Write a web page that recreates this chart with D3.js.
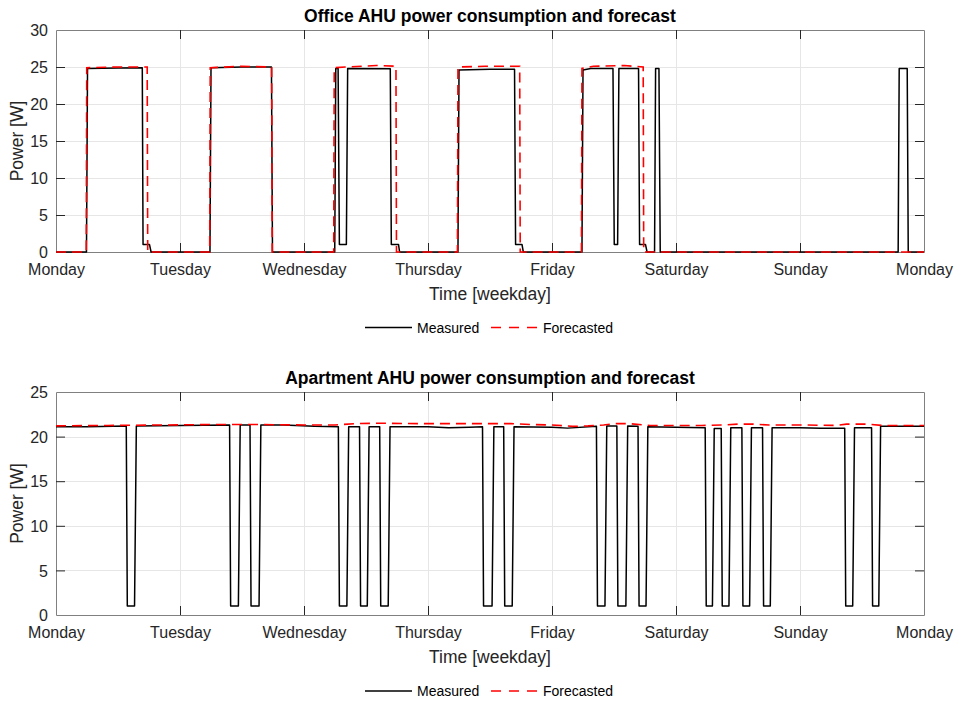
<!DOCTYPE html>
<html>
<head>
<meta charset="utf-8">
<script src="https://cdn.jsdelivr.net/npm/d3@7"></script>
<style>
  html, body { margin: 0; padding: 0; background: #fff; }
  svg { display: block; font-family: "Liberation Sans", Arial, sans-serif; }
</style>
</head>
<body>
<svg id="chart" width="957" height="702"></svg>
<script>
// Weekday tick labels (hours since Monday 00:00, one tick per day)
const dayLabels = ["Monday", "Tuesday", "Wednesday", "Thursday", "Friday", "Saturday", "Sunday", "Monday"];
const dayHours = [0, 24, 48, 72, 96, 120, 144, 168];

const officeTicks = [0, 5, 10, 15, 20, 25, 30];
const apartmentTicks = [0, 5, 10, 15, 20, 25];

// Office AHU, measured power [hour, W]
const officeMeasured = [
  [0, 0], [5.9, 0], [6.1, 24.8], [12, 24.85], [16.7, 24.9], [16.85, 1.0], [18.1, 1.0], [18.4, 0],
  [29.8, 0], [30.0, 24.9], [36, 25.0], [41.7, 25.0], [41.9, 0],
  [53.95, 0], [54.15, 24.8], [54.6, 24.8], [54.85, 1.0], [56.2, 1.0], [56.45, 24.8], [64.7, 24.75], [64.9, 1.0], [66.3, 1.0], [66.5, 0],
  [77.8, 0], [78.0, 24.6], [84, 24.7], [88.75, 24.7], [88.95, 1.0], [90.2, 1.0], [90.45, 0],
  [101.8, 0], [102.0, 24.6], [103.5, 24.8], [107.8, 24.8], [108.05, 1.0], [108.7, 1.0], [108.95, 24.8], [112.75, 24.8], [112.95, 1.0], [114.1, 1.0], [114.4, 0],
  [115.85, 0], [116.05, 24.8], [116.7, 24.8], [116.95, 0],
  [163.0, 0], [163.2, 24.8], [164.75, 24.8], [164.95, 0], [168, 0]
];

// Office AHU, forecasted power [hour, W]
const officeForecast = [
  [0, 0], [5.85, 0], [5.95, 24.9], [12, 25.0], [17.65, 25.0], [17.75, 0],
  [29.75, 0], [29.85, 24.9], [36, 25.1], [41.75, 25.0], [41.85, 0],
  [53.75, 0], [53.85, 24.9], [56, 25.0], [62, 25.2], [65.8, 25.1], [65.9, 0],
  [77.7, 0], [77.8, 25.0], [83, 25.1], [89.75, 25.1], [89.85, 0],
  [101.7, 0], [101.8, 24.8], [104, 25.1], [110, 25.2], [113.65, 25.0], [113.75, 0],
  [168, 0]
];

// Apartment AHU, measured power [hour, W]
const apartmentMeasured = [
  [0, 21.1], [6, 21.1], [13.6, 21.2], [13.8, 1.0], [15.2, 1.0], [15.55, 21.2],
  [24, 21.25], [33.6, 21.3], [33.8, 1.0], [35.3, 1.0], [35.65, 21.3],
  [37.55, 21.3], [37.75, 1.0], [39.3, 1.0], [39.65, 21.3], [44, 21.3],
  [50, 21.15], [54.65, 21.1], [54.85, 1.0], [56.3, 1.0], [56.65, 21.1],
  [58.75, 21.1], [58.95, 1.0], [60.25, 1.0], [60.6, 21.1],
  [62.65, 21.1], [62.85, 1.0], [64.3, 1.0], [64.65, 21.1],
  [72, 21.1], [76, 21.0], [80, 21.05], [82.55, 21.1], [82.75, 1.0], [84.4, 1.0], [84.75, 21.1],
  [86.65, 21.1], [86.85, 1.0], [88.3, 1.0], [88.65, 21.1],
  [96, 21.05], [99, 20.95], [104.6, 21.15], [104.8, 1.0], [106.25, 1.0], [106.6, 21.2],
  [108.55, 21.2], [108.75, 1.0], [110.3, 1.0], [110.65, 21.2],
  [112.65, 21.15], [112.85, 1.0], [114.2, 1.0], [114.55, 21.1],
  [120, 21.05], [125.65, 21.0], [125.85, 1.0], [127.05, 1.0], [127.4, 20.9],
  [128.75, 20.9], [128.95, 1.0], [130.25, 1.0], [130.6, 21.0],
  [132.75, 21.0], [132.95, 1.0], [134.25, 1.0], [134.6, 21.0],
  [136.75, 21.0], [136.95, 1.0], [138.25, 1.0], [138.6, 21.0],
  [144, 21.0], [148, 20.95], [152.65, 20.95], [152.85, 1.0], [154.2, 1.0], [154.55, 21.0],
  [157.85, 21.0], [158.05, 1.0], [159.25, 1.0], [159.6, 21.15], [168, 21.15]
];

// Apartment AHU, forecasted power [hour, W]
const apartmentForecast = [
  [0, 21.2], [10, 21.25], [20, 21.3], [30, 21.35], [40, 21.35], [48, 21.3], [54, 21.3],
  [58, 21.45], [62, 21.5], [70, 21.45], [80, 21.45], [88, 21.45], [92, 21.35], [96, 21.3],
  [100, 21.15], [103, 21.2], [106, 21.3], [108, 21.45], [111, 21.45], [115, 21.25],
  [125, 21.25], [129, 21.3], [132, 21.4], [135, 21.4], [138, 21.3], [145, 21.3],
  [151, 21.25], [153, 21.4], [157, 21.4], [160, 21.25], [168, 21.25]
];

const svg = d3.select("#chart");
const left = 56, right = 924;
const x = d3.scaleLinear().domain([0, 168]).range([left, right]);

function panel(cfg) {
  const y = d3.scaleLinear().domain([0, cfg.ymax]).range([cfg.bottom, cfg.top]);
  const g = svg.append("g");
  const clipId = "clip-" + cfg.id;

  g.append("clipPath").attr("id", clipId)
    .append("rect").attr("x", left).attr("y", cfg.top - 2)
    .attr("width", right - left).attr("height", cfg.bottom - cfg.top + 4);

  // grid
  const grid = g.append("g").attr("stroke", "#e6e6e6").attr("stroke-width", 1);
  grid.selectAll("line.v").data(dayHours.slice(1, -1)).join("line")
    .attr("x1", d => Math.round(x(d)) + 0.5).attr("x2", d => Math.round(x(d)) + 0.5)
    .attr("y1", cfg.top).attr("y2", cfg.bottom);
  grid.selectAll("line.h").data(cfg.ticks.slice(1, -1)).join("line")
    .attr("y1", d => Math.round(y(d)) + 0.5).attr("y2", d => Math.round(y(d)) + 0.5)
    .attr("x1", left).attr("x2", right);

  // axes (ticks pointing inward, box on all sides)
  const axStyle = sel => {
    sel.select(".domain").attr("stroke", "#808080");
    sel.selectAll(".tick line").attr("stroke", "#262626");
    sel.selectAll(".tick text").attr("fill", "#262626").style("font-size", "16px")
      .style("font-family", '"Liberation Sans", Arial, sans-serif');
  };
  const xb = g.append("g").attr("transform", `translate(0,${cfg.bottom})`)
    .call(d3.axisBottom(x).tickValues(dayHours).tickFormat((d, i) => dayLabels[i])
      .tickSizeInner(-9).tickSizeOuter(0).tickPadding(11.5));
  axStyle(xb);
  const xt = g.append("g").attr("transform", `translate(0,${cfg.top})`)
    .call(d3.axisTop(x).tickValues(dayHours).tickFormat("").tickSizeInner(-9).tickSizeOuter(0));
  axStyle(xt);
  const yl = g.append("g").attr("transform", `translate(${left},0)`)
    .call(d3.axisLeft(y).tickValues(cfg.ticks).tickSizeInner(-9).tickSizeOuter(0).tickPadding(8));
  axStyle(yl);
  const yr = g.append("g").attr("transform", `translate(${right},0)`)
    .call(d3.axisRight(y).tickValues(cfg.ticks).tickFormat("").tickSizeInner(-9).tickSizeOuter(0));
  axStyle(yr);
  [xb, xt].forEach(s => s.selectAll(".tick").filter(d => d === 0 || d === 168).select("line").remove());
  [yl, yr].forEach(s => s.selectAll(".tick").filter(d => d === 0 || d === cfg.ymax).select("line").remove());
  yl.selectAll(".tick text").attr("dy", "0.36em");

  // data lines
  const line = d3.line().x(d => x(d[0])).y(d => y(d[1]));
  const data = g.append("g").attr("clip-path", `url(#${clipId})`);
  data.append("path").datum(cfg.measured)
    .attr("fill", "none").attr("stroke", "#000").attr("stroke-width", 1.5)
    .attr("stroke-linejoin", "round").attr("d", line);
  data.append("path").datum(cfg.forecast)
    .attr("fill", "none").attr("stroke", "#ff0000").attr("stroke-width", 1.6)
    .attr("stroke-dasharray", "10,6").attr("d", line);

  // titles and labels
  g.append("text").attr("x", (left + right) / 2).attr("y", cfg.top - 8)
    .attr("text-anchor", "middle").style("font-size", "17.5px").style("font-weight", "bold")
    .attr("fill", "#000").text(cfg.title);
  g.append("text").attr("x", (left + right) / 2).attr("y", cfg.bottom + 48)
    .attr("text-anchor", "middle").style("font-size", "17.5px").attr("fill", "#262626")
    .text("Time [weekday]");
  g.append("text")
    .attr("transform", `translate(23,${(cfg.top + cfg.bottom) / 2}) rotate(-90)`)
    .attr("text-anchor", "middle").style("font-size", "17.5px").attr("fill", "#262626")
    .text("Power [W]");

  // legend
  const ly = cfg.legendY;
  const lg = g.append("g");
  lg.append("line").attr("x1", 365).attr("x2", 412).attr("y1", ly).attr("y2", ly)
    .attr("stroke", "#000").attr("stroke-width", 1.5);
  lg.append("text").attr("x", 417).attr("y", ly + 5).style("font-size", "14px")
    .attr("fill", "#000").text("Measured");
  lg.append("line").attr("x1", 491).attr("x2", 538).attr("y1", ly).attr("y2", ly)
    .attr("stroke", "#ff0000").attr("stroke-width", 1.6).attr("stroke-dasharray", "10,8");
  lg.append("text").attr("x", 543).attr("y", ly + 5).style("font-size", "14px")
    .attr("fill", "#000").text("Forecasted");
}

panel({
  id: "office", title: "Office AHU power consumption and forecast",
  top: 30, bottom: 252, ymax: 30, ticks: officeTicks,
  measured: officeMeasured, forecast: officeForecast, legendY: 327.5
});
panel({
  id: "apartment", title: "Apartment AHU power consumption and forecast",
  top: 392, bottom: 615, ymax: 25, ticks: apartmentTicks,
  measured: apartmentMeasured, forecast: apartmentForecast, legendY: 691
});
</script>
</body>
</html>
